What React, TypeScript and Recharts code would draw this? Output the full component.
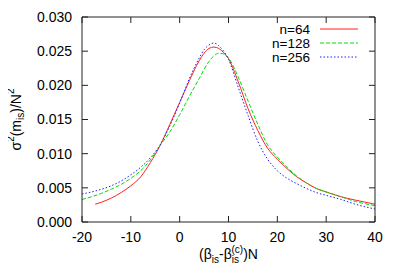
import { LineChart, Line, XAxis, YAxis, Label, Legend } from 'recharts'

// beta offsets (x) and sigma^2(m_is)/N^2 values
const betaN64 = [-17.3, -16, -14, -12, -10, -8, -6, -4, -2, 0, 2, 4, 5, 6, 7, 8, 9, 10, 12, 14, 16, 18, 20, 22, 24, 26, 28, 30, 33, 36, 40]
const sigmaN64 = [0.0026, 0.0029, 0.0035, 0.0043, 0.0053, 0.0066, 0.0087, 0.0112, 0.0143, 0.0175, 0.0207, 0.0236, 0.0247, 0.0254, 0.0256, 0.0254, 0.0248, 0.0239, 0.0205, 0.0166, 0.0134, 0.0108, 0.0092, 0.0078, 0.0066, 0.0057, 0.0049, 0.0044, 0.0037, 0.0032, 0.0026]

const betaN128 = [-20, -18, -16, -14, -12, -10, -8, -6, -4, -2, 0, 2, 4, 6, 7, 8, 9, 10, 12, 14, 16, 18, 20, 22, 24, 26, 28, 30, 33, 36, 40]
const sigmaN128 = [0.0033, 0.0037, 0.0042, 0.0048, 0.0055, 0.0064, 0.0075, 0.0091, 0.0112, 0.0132, 0.0157, 0.0184, 0.0210, 0.0235, 0.0243, 0.0247, 0.0246, 0.0240, 0.0212, 0.0177, 0.0143, 0.0113, 0.0095, 0.0080, 0.0067, 0.0057, 0.0049, 0.0044, 0.0037, 0.0030, 0.0024]

const betaN256 = [-20, -18, -16, -14, -12, -10, -8, -6, -4, -2, 0, 2, 4, 5, 6, 7, 8, 9, 10, 12, 14, 16, 18, 20, 22, 24, 26, 28, 30, 33, 36, 40]
const sigmaN256 = [0.0041, 0.0044, 0.0048, 0.0053, 0.0060, 0.0069, 0.0080, 0.0094, 0.0113, 0.0141, 0.0174, 0.0210, 0.0240, 0.0252, 0.0259, 0.0262, 0.0258, 0.0250, 0.0238, 0.0197, 0.0156, 0.0118, 0.0092, 0.0075, 0.0064, 0.0056, 0.0049, 0.0043, 0.0039, 0.0033, 0.0026, 0.0019]

const xTicks = [-20, -10, 0, 10, 20, 30, 40]
const yTicks = [0, 0.005, 0.01, 0.015, 0.02, 0.025, 0.03]

const toRows = (xs: number[], ys: number[]) => xs.map((x, i) => ({ x, y: ys[i] }))

const series = [
  { name: 'n=64', data: toRows(betaN64, sigmaN64), color: '#ff2020', dash: undefined },
  { name: 'n=128', data: toRows(betaN128, sigmaN128), color: '#00dd00', dash: '4 2' },
  { name: 'n=256', data: toRows(betaN256, sigmaN256), color: '#2020ff', dash: '1.5 2' },
]

const FONT = '"Liberation Sans", Arial, sans-serif'
const AXIS = '#222'
const TICK = 6

const W = 400
const H = 280
const MARGIN = { top: 17, right: 25, bottom: 0, left: 0 }
const Y_AXIS_W = 82
const X_AXIS_H = 58
// plot frame edges, from the margins and axis sizes above
const FRAME = {
  left: MARGIN.left + Y_AXIS_W,
  top: MARGIN.top,
  right: W - MARGIN.right,
  bottom: H - MARGIN.bottom - X_AXIS_H,
}

// bottom tick label, plus the mirrored inward tick on the top border
function XTickItem(props: any) {
  const { x, y, payload } = props
  return (
    <g>
      <text x={x} y={y} dy="0.71em" textAnchor="middle" fontFamily={FONT} fontSize={14} fill="#000">
        {payload.value}
      </text>
      <line x1={x} x2={x} y1={FRAME.top} y2={FRAME.top + TICK} stroke={AXIS} strokeWidth={1} />
      {payload.value === xTicks[xTicks.length - 1] && (
        <line x1={FRAME.left} x2={FRAME.right} y1={FRAME.top} y2={FRAME.top} stroke={AXIS} strokeWidth={1} />
      )}
    </g>
  )
}

// left tick label, plus the mirrored inward tick on the right border
function YTickItem(props: any) {
  const { x, y, payload } = props
  return (
    <g>
      <text x={x} y={y} dy="0.355em" textAnchor="end" fontFamily={FONT} fontSize={14} fill="#000">
        {Number(payload.value).toFixed(3)}
      </text>
      <line x1={FRAME.right} x2={FRAME.right - TICK} y1={y} y2={y} stroke={AXIS} strokeWidth={1} />
      {payload.value === yTicks[yTicks.length - 1] && (
        <line x1={FRAME.right} x2={FRAME.right} y1={FRAME.top} y2={FRAME.bottom} stroke={AXIS} strokeWidth={1} />
      )}
    </g>
  )
}

function YTitle(props: any) {
  const vb = props.viewBox || {}
  const cx = vb.x + 17
  const cy = vb.y + vb.height / 2
  return (
    <text
      x={cx}
      y={cy}
      transform={`rotate(-90 ${cx} ${cy})`}
      textAnchor="middle"
      dominantBaseline="middle"
      fontFamily={FONT}
      fontSize={14}
      fill="#000"
    >
      σ
      <tspan dy={-6} fontSize={10}>2</tspan>
      <tspan dy={6}>(m</tspan>
      <tspan dy={4} fontSize={10}>is</tspan>
      <tspan dy={-4}>)/N</tspan>
      <tspan dy={-6} fontSize={10}>2</tspan>
    </text>
  )
}

function XTitle(props: any) {
  const vb = props.viewBox || {}
  const cx = vb.x + vb.width / 2
  const cy = vb.y + 37
  return (
    <text x={cx} y={cy} textAnchor="middle" fontFamily={FONT} fontSize={14} fill="#000">
      (β
      <tspan dy={4} fontSize={10}>is</tspan>
      <tspan dy={-4}>-β</tspan>
      <tspan dy={4} fontSize={10}>is</tspan>
      <tspan dx={-7.5} dy={-10} fontSize={10}>(c)</tspan>
      <tspan dy={6}>)N</tspan>
    </text>
  )
}

function LegendBox() {
  return (
    <svg width={150} height={45} style={{ display: 'block' }}>
      {series.map((s, i) => (
        <g key={s.name}>
          <text
            x={84}
            y={7 + i * 14}
            textAnchor="end"
            dominantBaseline="central"
            fontFamily={FONT}
            fontSize={13.5}
            fill="#000"
          >
            {s.name}
          </text>
          <line
            x1={94}
            x2={132}
            y1={7 + i * 14}
            y2={7 + i * 14}
            stroke={s.color}
            strokeWidth={1}
            strokeDasharray={s.dash}
          />
        </g>
      ))}
    </svg>
  )
}

export default function App() {
  return (
    <div style={{ position: 'relative', margin: -8, width: W, height: H, background: '#fff' }}>
      <LineChart width={W} height={H} margin={MARGIN}>
        <XAxis
          dataKey="x"
          type="number"
          domain={[-20, 40]}
          ticks={xTicks}
          allowDataOverflow
          height={X_AXIS_H}
          tickSize={-TICK}
          tickMargin={16}
          stroke={AXIS}
          tick={<XTickItem />}
        >
          <Label content={<XTitle />} />
        </XAxis>
        <YAxis
          type="number"
          domain={[0, 0.03]}
          ticks={yTicks}
          allowDataOverflow
          width={Y_AXIS_W}
          tickSize={-TICK}
          tickMargin={16}
          stroke={AXIS}
          tick={<YTickItem />}
        >
          <Label content={<YTitle />} />
        </YAxis>
        <Legend
          layout="horizontal"
          verticalAlign="middle"
          align="center"
          wrapperStyle={{ position: 'absolute', left: 226, top: 22, width: 150 }}
          content={() => <LegendBox />}
        />
        {series.map((s) => (
          <Line
            key={s.name}
            data={s.data}
            dataKey="y"
            name={s.name}
            type="monotone"
            stroke={s.color}
            strokeWidth={1}
            strokeDasharray={s.dash}
            dot={false}
            isAnimationActive={false}
          />
        ))}
      </LineChart>
    </div>
  )
}
